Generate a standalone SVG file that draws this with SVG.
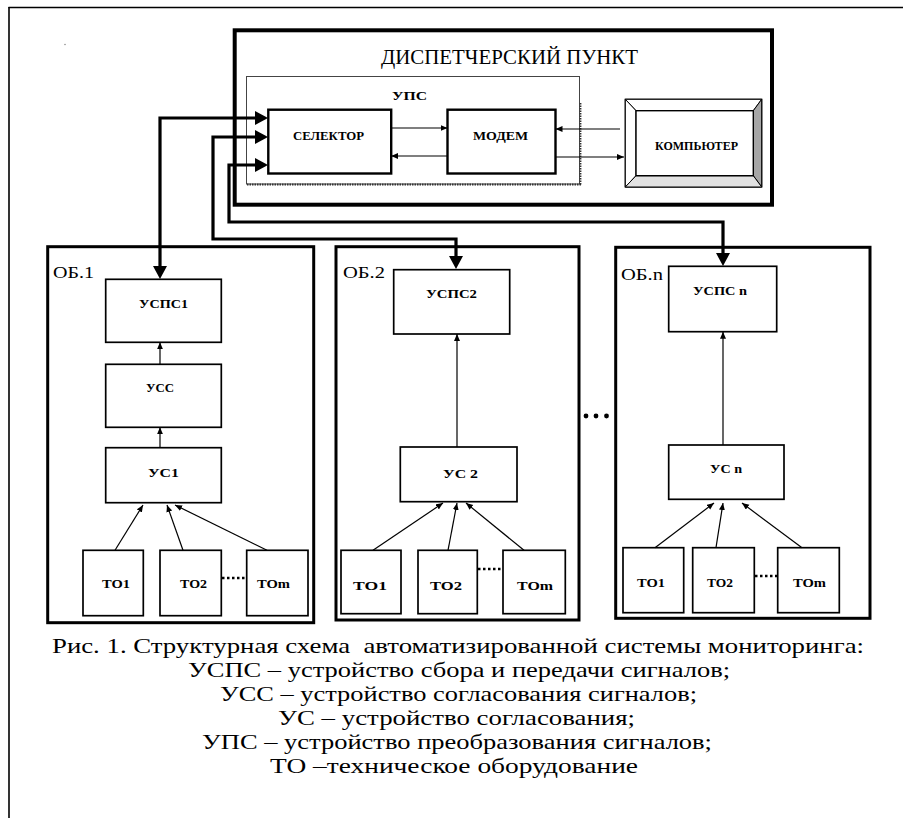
<svg xmlns="http://www.w3.org/2000/svg" width="903" height="818" viewBox="0 0 903 818">
<style>
.bx{fill:#fff;stroke:#000;stroke-width:1.7}
.ob{fill:#fff;stroke:#000;stroke-width:3}
.thick{fill:none;stroke:#000;stroke-width:3.2}
.thin{fill:none;stroke:#000;stroke-width:1.2}
.lb{font-family:"Liberation Serif","Times New Roman",serif;font-weight:bold;font-size:13.5px;text-anchor:middle;fill:#000}
.ol{font-family:"Liberation Serif","Times New Roman",serif;font-size:16.5px;fill:#000}
.cap{font-family:"Liberation Serif","Times New Roman",serif;font-size:22px;text-anchor:middle;fill:#000}
.dots{fill:none;stroke:#000;stroke-width:2.5;stroke-dasharray:2.5 2.5}
</style>
<defs>
<marker id="big" markerUnits="userSpaceOnUse" markerWidth="14" markerHeight="15" refX="0" refY="7" orient="auto-start-reverse" viewBox="0 0 14 15"><path d="M0,0 L13,7 L0,14 Z" fill="#000"/></marker>
<marker id="sm" markerUnits="userSpaceOnUse" markerWidth="8" markerHeight="7" refX="7" refY="3" orient="auto" viewBox="0 0 8 7"><path d="M0,0 L7,3 L0,6 Z" fill="#000"/></marker>
</defs>
<rect width="903" height="818" fill="#fff"/>
<g id="frame">
<line x1="8.5" y1="7.5" x2="903" y2="7.5" stroke="#000" stroke-width="1.6"/>
<line x1="9" y1="7" x2="9" y2="818" stroke="#000" stroke-width="1.6"/>
<circle cx="65" cy="44.5" r="0.7" fill="#777"/>
</g>
<g id="dispatcher">
<rect x="234.7" y="30.3" width="537.3" height="174.4" fill="#fff" stroke="#000" stroke-width="4"/>
<text x="509.5" y="64" font-family="Liberation Serif, Times New Roman, serif" font-size="22" text-anchor="middle" textLength="257" lengthAdjust="spacingAndGlyphs">ДИСПЕТЧЕРСКИЙ ПУНКТ</text>
</g>
<g id="ups">
<rect x="246.5" y="76.5" width="333" height="107.5" fill="none" stroke="#444" stroke-width="1"/>
<line x1="580.5" y1="103" x2="580.5" y2="185" stroke="#333" stroke-width="1.8" stroke-dasharray="1.5 1"/>
<line x1="247" y1="184.5" x2="581" y2="184.5" stroke="#333" stroke-width="1.8" stroke-dasharray="1.5 1"/>
<text x="409.5" y="100" class="lb" font-size="17.5" textLength="35" lengthAdjust="spacingAndGlyphs">УПС</text>
</g>
<g id="selector">
<rect x="268.3" y="109.7" width="122.9" height="63.8" fill="#fff" stroke="#000" stroke-width="2.4"/>
<text x="328.5" y="140" class="lb" font-size="16.5" textLength="71" lengthAdjust="spacingAndGlyphs">СЕЛЕКТОР</text>
</g>
<g id="modem">
<rect x="447.5" y="109.7" width="108" height="63.8" fill="#fff" stroke="#000" stroke-width="2.4"/>
<text x="500.5" y="140" class="lb" font-size="16.5" textLength="55" lengthAdjust="spacingAndGlyphs">МОДЕМ</text>
</g>
<g id="computer">
<rect x="625.3" y="99.3" width="136.4" height="87.7" fill="#fff" stroke="#000" stroke-width="1.3"/>
<polygon points="625.3,99.3 761.7,99.3 753.3,110.7 636,110.7" fill="#fff" stroke="#000" stroke-width="1"/>
<polygon points="625.3,99.3 636,110.7 636,175.7 625.3,187" fill="#fff" stroke="#000" stroke-width="1"/>
<polygon points="761.7,99.3 761.7,187 753.3,175.7 753.3,110.7" fill="#a6a6a6" stroke="#000" stroke-width="1"/>
<polygon points="625.3,187 761.7,187 753.3,175.7 636,175.7" fill="#e2e2e2" stroke="#000" stroke-width="1"/>
<rect x="636" y="110.7" width="117.3" height="65" fill="#fff" stroke="#000" stroke-width="1.4"/>
<text x="696.5" y="150" class="lb" font-size="15" textLength="83" lengthAdjust="spacingAndGlyphs">КОМПЬЮТЕР</text>
</g>
<g id="ob1">
<rect class="ob" x="47.7" y="246.7" width="266" height="376"/>
<text x="53" y="278" class="ol" textLength="41" lengthAdjust="spacingAndGlyphs">ОБ.1</text>
<rect class="bx" x="105.7" y="279.3" width="115.6" height="63"/>
<text x="163.5" y="308" class="lb" textLength="49" lengthAdjust="spacingAndGlyphs">УСПС1</text>
<rect class="bx" x="105.7" y="364.3" width="115.6" height="63"/>
<text x="160" y="392" class="lb" textLength="28" lengthAdjust="spacingAndGlyphs">УСС</text>
<rect class="bx" x="105.7" y="447.7" width="115.6" height="55"/>
<text x="163.5" y="477" class="lb" textLength="31" lengthAdjust="spacingAndGlyphs">УС1</text>
<rect class="bx" x="83" y="550.3" width="60.3" height="65.4"/>
<text x="116" y="588" class="lb" textLength="28" lengthAdjust="spacingAndGlyphs">ТО1</text>
<rect class="bx" x="160" y="550.3" width="61.3" height="65.4"/>
<text x="193.5" y="588" class="lb" textLength="27" lengthAdjust="spacingAndGlyphs">ТО2</text>
<rect class="bx" x="246.7" y="550.3" width="61.3" height="65.4"/>
<text x="273.5" y="588" class="lb" textLength="33" lengthAdjust="spacingAndGlyphs">ТОm</text>
<line class="dots" x1="222" y1="578" x2="246" y2="578"/>
</g>
<g id="ob2">
<rect class="ob" x="336" y="246.7" width="243" height="373.3"/>
<text x="343" y="278" class="ol" textLength="42" lengthAdjust="spacingAndGlyphs">ОБ.2</text>
<rect class="bx" x="393.7" y="269.7" width="116" height="64.3"/>
<text x="451.5" y="298" class="lb" textLength="51" lengthAdjust="spacingAndGlyphs">УСПС2</text>
<rect class="bx" x="400.3" y="447" width="116.7" height="54.7"/>
<text x="460.5" y="478" class="lb" textLength="35" lengthAdjust="spacingAndGlyphs">УС 2</text>
<rect class="bx" x="341" y="550.3" width="60" height="63.4"/>
<text x="370" y="590" class="lb" textLength="34" lengthAdjust="spacingAndGlyphs">ТО1</text>
<rect class="bx" x="418" y="550.3" width="59.3" height="63.4"/>
<text x="446" y="590" class="lb" textLength="32" lengthAdjust="spacingAndGlyphs">ТО2</text>
<rect class="bx" x="503" y="550.3" width="62.3" height="63.4"/>
<text x="535" y="590" class="lb" textLength="36" lengthAdjust="spacingAndGlyphs">ТОm</text>
<line class="dots" x1="478" y1="569" x2="503" y2="569"/>
</g>
<g id="ellipsis">
<circle cx="586" cy="416" r="2.4" fill="#000"/>
<circle cx="596" cy="416" r="2.4" fill="#000"/>
<circle cx="606.5" cy="416" r="2.4" fill="#000"/>
</g>
<g id="obn">
<rect class="ob" x="615.7" y="247.3" width="254.3" height="371"/>
<text x="621" y="280" class="ol" textLength="42" lengthAdjust="spacingAndGlyphs">ОБ.n</text>
<rect class="bx" x="668.7" y="266.3" width="108" height="65.4"/>
<text x="720" y="295" class="lb" textLength="54" lengthAdjust="spacingAndGlyphs">УСПС n</text>
<rect class="bx" x="668.7" y="445" width="115.3" height="54.3"/>
<text x="726" y="473" class="lb" textLength="32" lengthAdjust="spacingAndGlyphs">УС n</text>
<rect class="bx" x="623" y="547.7" width="60.7" height="65"/>
<text x="651" y="587" class="lb" textLength="28" lengthAdjust="spacingAndGlyphs">ТО1</text>
<rect class="bx" x="692.7" y="547.7" width="61.6" height="65"/>
<text x="720" y="587" class="lb" textLength="26" lengthAdjust="spacingAndGlyphs">ТО2</text>
<rect class="bx" x="777.7" y="547.7" width="61.6" height="65"/>
<text x="809.5" y="587" class="lb" textLength="33" lengthAdjust="spacingAndGlyphs">ТОm</text>
<line class="dots" x1="755" y1="576" x2="778" y2="576"/>
</g>
<g id="connectors">
<path class="thick" d="M255,118 H160 V266" marker-start="url(#big)" marker-end="url(#big)"/>
<path class="thick" d="M255,137 H213 V239 H456 V256" marker-start="url(#big)" marker-end="url(#big)"/>
<path class="thick" d="M255,165 H229 V222 H723 V253" marker-start="url(#big)" marker-end="url(#big)"/>
<line class="thin" x1="391.2" y1="128" x2="447.5" y2="128" marker-end="url(#sm)"/>
<line class="thin" x1="447.5" y1="156" x2="391.2" y2="156" marker-end="url(#sm)"/>
<line class="thin" x1="620" y1="129" x2="555.5" y2="129" marker-end="url(#sm)"/>
<line class="thin" x1="555.5" y1="157" x2="624" y2="157" marker-end="url(#sm)"/>
<line class="thin" x1="160" y1="364.3" x2="160" y2="342.3" marker-end="url(#sm)"/>
<line class="thin" x1="160" y1="447.7" x2="160" y2="427.3" marker-end="url(#sm)"/>
<line class="thin" x1="115" y1="550.3" x2="143" y2="505" marker-end="url(#sm)"/>
<line class="thin" x1="183" y1="550.3" x2="167" y2="505" marker-end="url(#sm)"/>
<line class="thin" x1="267" y1="550.3" x2="175" y2="505" marker-end="url(#sm)"/>
<line class="thin" x1="457" y1="447" x2="457" y2="334" marker-end="url(#sm)"/>
<line class="thin" x1="373" y1="550.3" x2="443" y2="503" marker-end="url(#sm)"/>
<line class="thin" x1="448" y1="550.3" x2="457" y2="503" marker-end="url(#sm)"/>
<line class="thin" x1="524" y1="550.3" x2="466" y2="503" marker-end="url(#sm)"/>
<line class="thin" x1="723" y1="445" x2="723" y2="331.7" marker-end="url(#sm)"/>
<line class="thin" x1="655" y1="547.7" x2="714" y2="503" marker-end="url(#sm)"/>
<line class="thin" x1="716" y1="547.7" x2="723" y2="503" marker-end="url(#sm)"/>
<line class="thin" x1="802" y1="547.7" x2="742" y2="503" marker-end="url(#sm)"/>
</g>
<g id="caption">
<text class="cap" x="458" y="653" textLength="812" lengthAdjust="spacingAndGlyphs" xml:space="preserve">Рис. 1. Структурная схема  автоматизированной системы мониторинга:</text>
<text class="cap" x="459" y="677" textLength="542" lengthAdjust="spacingAndGlyphs">УСПС – устройство сбора и передачи сигналов;</text>
<text class="cap" x="458.5" y="701" textLength="477" lengthAdjust="spacingAndGlyphs">УСС – устройство согласования сигналов;</text>
<text class="cap" x="456.5" y="725" textLength="357" lengthAdjust="spacingAndGlyphs">УС – устройство согласования;</text>
<text class="cap" x="457" y="749" textLength="510" lengthAdjust="spacingAndGlyphs">УПС – устройство преобразования сигналов;</text>
<text class="cap" x="454" y="773" textLength="368" lengthAdjust="spacingAndGlyphs">ТО –техническое оборудование</text>
</g>
</svg>
